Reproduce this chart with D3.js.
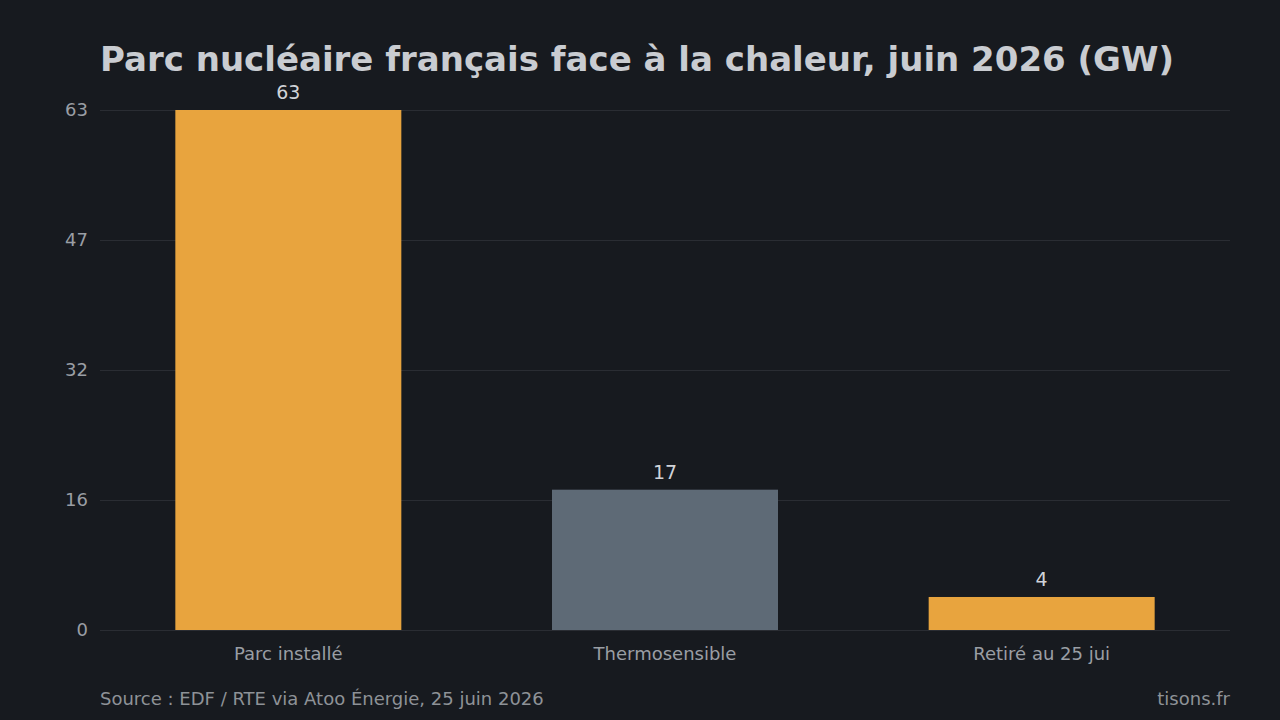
<!DOCTYPE html>
<html>
<head>
<meta charset="utf-8">
<script src="https://cdn.jsdelivr.net/npm/d3@7"></script>
<style>
  html, body { margin: 0; padding: 0; background: #171a1f; }
  svg { display: block; font-family: "DejaVu Sans", sans-serif; }
</style>
</head>
<body>
<div class="svgWrapper"></div>
<script>
// Data //
const categories = ["Parc installé", "Thermosensible", "Retiré au 25 jui"];
const values = [63, 17, 4];
const barColors = ["#e8a43e", "#5e6a76", "#e8a43e"];
const tickValues = [0, 15.75, 31.5, 47.25, 63];

// Styles //
const svgStyles = { w: 1280, h: 720 };
const margin = { top: 110, right: 50, bottom: 90, left: 100 };
const w = svgStyles.w - margin.left - margin.right;
const h = svgStyles.h - margin.top - margin.bottom;

const svg = d3
  .select(".svgWrapper")
  .append("svg")
  .attr("width", svgStyles.w)
  .attr("height", svgStyles.h);

svg.append("rect")
  .attr("width", svgStyles.w)
  .attr("height", svgStyles.h)
  .attr("fill", "#171a1f");

// title
svg.append("text")
  .attr("x", margin.left)
  .attr("y", 71)
  .attr("fill", "#c9ccd1")
  .style("font-size", "34px")
  .style("font-weight", "bold")
  .text("Parc nucléaire français face à la chaleur, juin 2026 (GW)");

const chart = svg.append("g")
  .attr("transform", `translate(${margin.left}, ${margin.top})`);

const xScale = d3.scaleBand()
  .domain(categories)
  .range([0, w])
  .paddingInner(0.4)
  .paddingOuter(0.2);

const yScale = d3.scaleLinear()
  .domain([0, 63])
  .range([h, 0]);

// gridlines
chart.selectAll(".grid")
  .data(tickValues)
  .enter()
  .append("line")
  .attr("class", "grid")
  .attr("x1", 0)
  .attr("x2", w)
  .attr("y1", d => yScale(d) + 0.5)
  .attr("y2", d => yScale(d) + 0.5)
  .attr("stroke", "#2a2d33")
  .attr("stroke-width", 1);

// y axis
const yAxis = d3.axisLeft(yScale)
  .tickValues(tickValues)
  .tickFormat(d => Math.round(d))
  .tickSize(0)
  .tickPadding(12);

const yG = chart.append("g").call(yAxis);
yG.select(".domain").remove();
yG.selectAll("text")
  .attr("fill", "#9a9ea4")
  .style("font-size", "18px")
  .style("font-family", "DejaVu Sans, sans-serif");

// bars
chart.selectAll(".bar")
  .data(values)
  .enter()
  .append("rect")
  .attr("class", "bar")
  .attr("x", (d, i) => xScale(categories[i]))
  .attr("y", d => yScale(d))
  .attr("width", xScale.bandwidth())
  .attr("height", d => h - yScale(d))
  .attr("fill", (d, i) => barColors[i]);

// value labels
chart.selectAll(".val")
  .data(values)
  .enter()
  .append("text")
  .attr("class", "val")
  .attr("x", (d, i) => xScale(categories[i]) + xScale.bandwidth() / 2)
  .attr("y", d => yScale(d) - 11)
  .attr("text-anchor", "middle")
  .attr("fill", "#d0d3d8")
  .style("font-size", "19px")
  .text(d => d);

// x axis
const xAxis = d3.axisBottom(xScale).tickSize(0).tickPadding(17);
const xG = chart.append("g")
  .attr("transform", `translate(0, ${h})`)
  .call(xAxis);
xG.select(".domain").remove();
xG.selectAll("text")
  .attr("fill", "#9a9ea4")
  .style("font-size", "18px")
  .style("font-family", "DejaVu Sans, sans-serif");

// footer
svg.append("text")
  .attr("x", margin.left)
  .attr("y", 705)
  .attr("fill", "#8e9297")
  .style("font-size", "18px")
  .text("Source : EDF / RTE via Atoo Énergie, 25 juin 2026");

svg.append("text")
  .attr("x", margin.left + w)
  .attr("y", 705)
  .attr("text-anchor", "end")
  .attr("fill", "#8e9297")
  .style("font-size", "18px")
  .text("tisons.fr");
</script>
</body>
</html>
